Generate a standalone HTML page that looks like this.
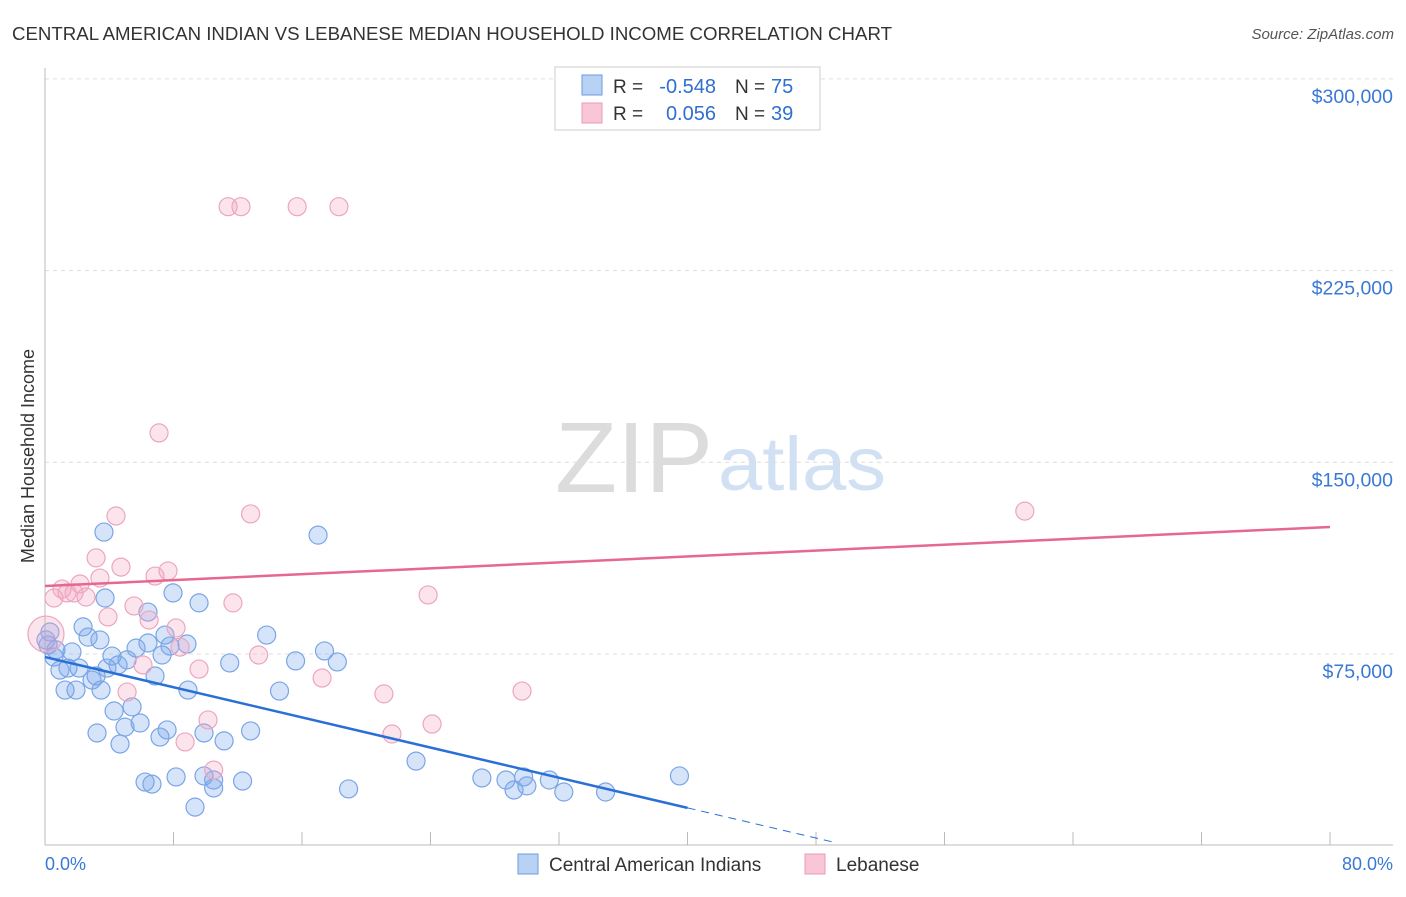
<!DOCTYPE html>
<html><head><meta charset="utf-8"><style>
body{margin:0;background:#fff;font-family:"Liberation Sans",sans-serif}
svg text{font-family:"Liberation Sans",sans-serif}
</style></head><body>
<svg id="chart" width="1406" height="892" xmlns="http://www.w3.org/2000/svg">
<text x="12" y="40" font-size="18" fill="#333" textLength="880" lengthAdjust="spacingAndGlyphs">CENTRAL AMERICAN INDIAN VS LEBANESE MEDIAN HOUSEHOLD INCOME CORRELATION CHART</text>
<text x="1394" y="39" font-size="15" fill="#555" text-anchor="end" font-style="italic">Source: ZipAtlas.com</text>
<g>
<text x="634" y="492" font-size="100" fill="#dcdcdc" text-anchor="middle" font-family="Liberation Serif" textLength="158" lengthAdjust="spacingAndGlyphs">ZIP</text>
<text x="802" y="490" font-size="76" fill="#d2e0f4" text-anchor="middle" textLength="168" lengthAdjust="spacingAndGlyphs">atlas</text>
</g>
<g id="grid"></g>
<g id="axes"></g>
<g id="marks"></g>
<text transform="translate(34,456) rotate(-90)" font-size="18" fill="#333" text-anchor="middle">Median Household Income</text>
<text x="45" y="870" font-size="18" fill="#3a78d6">0.0%</text>
<text x="1393" y="870" font-size="18" fill="#3a78d6" text-anchor="end">80.0%</text>
<g>
<rect x="555" y="67" width="265" height="63" fill="#fff" stroke="#ccc"/>
<rect x="582" y="75" width="20" height="20" fill="#b9d1f3" stroke="#6a9be0"/>
<rect x="582" y="103" width="20" height="20" fill="#f8c6d5" stroke="#ea9bb6"/>
<text x="613" y="93" font-size="19" fill="#333">R =</text>
<text x="716" y="93" font-size="20" fill="#2f6fd0" text-anchor="end">-0.548</text>
<text x="735" y="93" font-size="19" fill="#333">N =</text>
<text x="771" y="93" font-size="20" fill="#2f6fd0">75</text>
<text x="613" y="120" font-size="19" fill="#333">R =</text>
<text x="716" y="120" font-size="20" fill="#2f6fd0" text-anchor="end">0.056</text>
<text x="735" y="120" font-size="19" fill="#333">N =</text>
<text x="771" y="120" font-size="20" fill="#2f6fd0">39</text>
</g>
<g>
<rect x="518" y="854" width="20" height="20" fill="#b9d1f3" stroke="#6a9be0"/>
<text x="549" y="871" font-size="19" fill="#333">Central American Indians</text>
<rect x="805" y="854" width="20" height="20" fill="#f8c6d5" stroke="#ea9bb6"/>
<text x="836" y="871" font-size="19" fill="#333">Lebanese</text>
</g>
</svg>
<script>
const yTicks=[75000,150000,225000,300000];
const yTickLabels=["$75,000","$150,000","$225,000","$300,000"];
const blueX=[3.67,17.0,3.74,7.97,9.59,6.41,2.37,2.68,0.31,0.06,0.68,13.8,7.47,6.41,8.84,5.67,7.78,17.4,4.17,0.56,1.68,5.11,4.55,3.86,18.2,11.5,15.6,7.29,2.12,3.18,2.93,6.85,1.25,1.93,3.49,14.6,8.9,4.3,5.42,5.92,4.98,7.6,3.24,7.16,9.9,11.15,12.8,4.67,23.1,6.23,6.66,8.16,9.9,10.5,12.3,27.2,28.7,29.8,31.4,29.2,30.0,32.3,34.9,18.9,10.5,9.34,39.5,0.93,1.43,3.42,0.19];
const blueY=[122.7,121.5,96.9,98.9,95.0,91.4,85.6,81.6,83.6,80.5,76.6,82.4,82.4,79.3,78.9,77.3,78.1,76.2,74.2,73.8,75.8,72.7,70.7,69.5,71.9,71.5,72.3,74.6,69.5,66.4,64.8,66.4,60.9,60.9,60.9,60.5,60.9,52.7,54.3,48.0,46.4,45.3,44.1,42.5,44.1,41.0,44.9,39.8,33.1,24.9,24.1,26.9,27.3,25.7,25.3,26.5,25.7,26.9,25.7,21.8,23.4,21.0,21.0,22.2,22.6,15.1,27.3,68.7,69.5,80.5,78.5];
const pinkX=[11.4,12.2,15.7,18.3,7.1,61.0,4.42,12.8,3.18,4.73,6.85,7.66,3.42,2.18,1.06,1.37,1.81,2.55,0.56,3.92,5.54,11.7,23.85,8.16,6.48,8.41,6.1,9.59,13.3,17.25,5.11,21.1,29.7,10.15,24.1,8.72,21.6,10.5,0.06];
const pinkY=[250,250,250,250,161.5,130.9,129.0,129.8,112.6,109.0,105.5,107.5,104.7,102.4,100.4,98.9,98.9,97.3,96.9,89.5,93.8,95.0,98.1,85.2,88.3,77.7,70.7,69.1,74.6,65.6,60.1,59.4,60.5,49.2,47.6,40.6,43.7,29.6,82.8];
const blueTrend=[73.8,14.8];
const pinkTrend=[101.6,124.7];
const NS="http://www.w3.org/2000/svg";
const X=p=>45+p*16.0625;
const Y=k=>654-(k-75)*191.7/75;
function mk(tag,attrs,parent){const e=document.createElementNS(NS,tag);for(const k in attrs)e.setAttribute(k,attrs[k]);document.getElementById(parent).appendChild(e);return e;}
yTicks.forEach((t,i)=>{
 const l=mk('line',{x1:45,x2:1393,y1:Y(t/1000),y2:Y(t/1000),stroke:'#ddd','stroke-dasharray':'4,4'},'grid');
 
 
 const tx=mk('text',{x:1393,y:Y(t/1000)+24,'font-size':19.5,fill:'#3a78d6','text-anchor':'end'},'grid');
 tx.textContent=yTickLabels[i];
 
 
});
const ya=mk('line',{x1:45,x2:45,y1:68,y2:845,stroke:'#bbb'},'axes');


const xa=mk('line',{x1:45,x2:1393,y1:845,y2:845,stroke:'#bbb'},'axes');


for(let i=1;i<=10;i++){const t=mk('line',{x1:X(i*8),x2:X(i*8),y1:832,y2:845,stroke:'#bbb'},'axes');
 
 }
blueX.forEach((x,i)=>{const c=mk('circle',{cx:X(x),cy:Y(blueY[i]),r:9,fill:'rgba(120,165,235,0.3)',stroke:'#7aa5e6','stroke-width':1.2},'marks');
 
 });
pinkX.forEach((x,i)=>{const c=mk('circle',{cx:X(x),cy:Y(pinkY[i]),r:i==pinkX.length-1?18:9,fill:'rgba(245,165,195,0.3)',stroke:'#eca6bf','stroke-width':1.2},'marks');
 
 });
const bs=(blueTrend[1]-blueTrend[0])/40;
const bl=mk('line',{x1:X(0),y1:Y(blueTrend[0]),x2:X(40),y2:Y(blueTrend[1]),stroke:'#2a6fd6','stroke-width':2.5},'marks');


const bd=mk('line',{x1:X(40),y1:Y(blueTrend[1]),x2:X(49.3),y2:Y(blueTrend[0]+bs*49.3),stroke:'#2a6fd6','stroke-width':1,'stroke-dasharray':'8,6'},'marks');


const pl=mk('line',{x1:X(0),y1:Y(pinkTrend[0]),x2:X(80),y2:Y(pinkTrend[1]),stroke:'#e6688f','stroke-width':2.5},'marks');


</script>
</body></html>
